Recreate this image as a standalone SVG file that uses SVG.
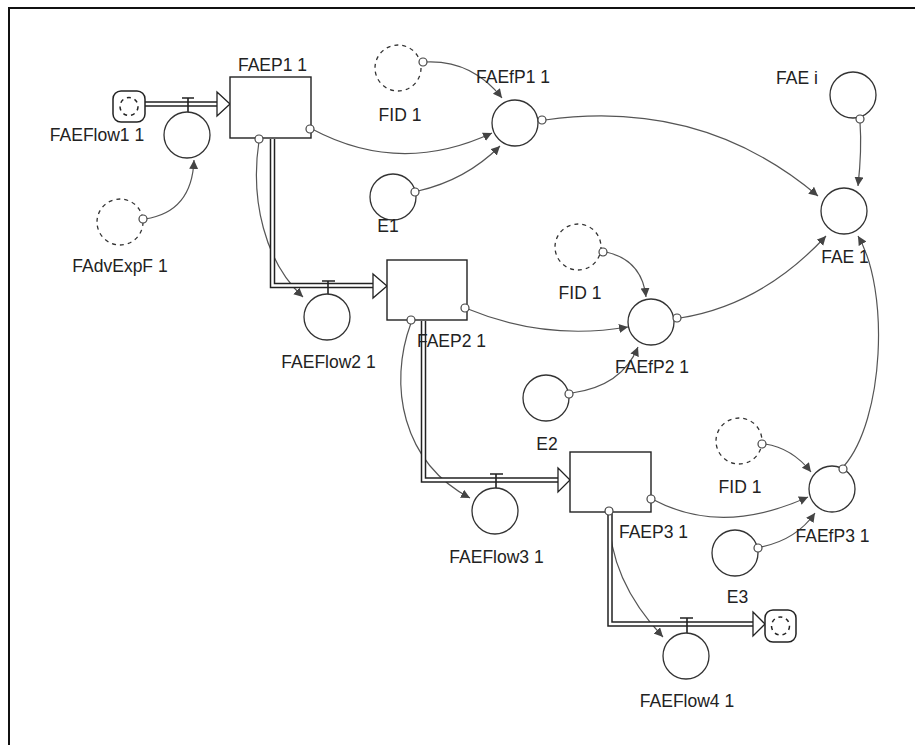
<svg xmlns="http://www.w3.org/2000/svg" width="915" height="745" viewBox="0 0 915 745">
<defs>
<style>
.bg{fill:#fff}
.frame{stroke:#111;stroke-width:2;fill:none}
.stock{fill:#fff;stroke:#222;stroke-width:1.4}
.aux{fill:#fff;stroke:#333;stroke-width:1.3}
.ghost{fill:none;stroke:#333;stroke-width:1.3;stroke-dasharray:4 4}
.pipeo{fill:none;stroke:#222;stroke-width:5.5;stroke-linejoin:miter}
.pipei{fill:none;stroke:#fff;stroke-width:2.5;stroke-linejoin:miter}
.tri{fill:#fff;stroke:#222;stroke-width:1.3}
.valve{fill:none;stroke:#222;stroke-width:1.6}
.cloud{fill:#fff;stroke:#222;stroke-width:1.5}
.cloudin{fill:none;stroke:#222;stroke-width:1.5;stroke-dasharray:4 4}
.link{fill:none;stroke:#555;stroke-width:1.2;marker-end:url(#ah)}
.org{fill:#fff;stroke:#444;stroke-width:1.2}
text{font-family:"Liberation Sans",Arial,sans-serif;font-size:17.5px;fill:#222;text-anchor:middle}
</style>
<marker id="ah" markerUnits="userSpaceOnUse" markerWidth="10" markerHeight="10" refX="9" refY="4.5" orient="auto">
<path d="M0,0 L9,4.5 L0,9 z" fill="#444"/>
</marker>
</defs>
<rect class="bg" x="0" y="0" width="915" height="745"/>
<path class="frame" d="M9,745 V8 H915"/>

<g id="connectors">
<path class="link" d="M145,219 Q192,212 194,160"/>
<path class="link" d="M259,141 C250,200 265,262 303,297"/>
<path class="link" d="M312,129 Q400,176 492,133"/>
<path class="link" d="M426,62 Q472,60 502,98"/>
<path class="link" d="M418,191 Q466,180 500,146"/>
<path class="link" d="M545,120 Q702,98 818,196"/>
<path class="link" d="M860,122 Q862,150 858,186"/>
<path class="link" d="M468,309 Q545,341 628,327"/>
<path class="link" d="M411,323 C388,385 402,462 470,498"/>
<path class="link" d="M606,252 Q642,260 646,297"/>
<path class="link" d="M572,393 Q622,386 638,347"/>
<path class="link" d="M680,318 Q762,305 826,236"/>
<path class="link" d="M844,466 C884,420 890,290 858,236"/>
<path class="link" d="M654,500 Q722,536 808,497"/>
<path class="link" d="M765,444 Q792,448 811,472"/>
<path class="link" d="M761,547 Q796,540 815,513"/>
<path class="link" d="M609,514 C609,562 630,602 663,637"/>
</g>

<g id="flow1">
<path class="pipeo" d="M145,104 H218"/>
<path class="pipei" d="M145,104 H218"/>
<polygon class="tri" points="217,92 230,104 217,116"/>
<path class="valve" d="M182,98 H194 M188,98 V112"/>
<circle class="aux" cx="187" cy="135" r="23"/>
<text x="97" y="141">FAEFlow1 1</text>
</g>
<g id="cloud1">
<rect class="cloud" x="113" y="91" width="32" height="31" rx="8"/>
<circle class="cloudin" cx="129" cy="106.5" r="9"/>
</g>

<g id="flow2">
<path class="pipeo" d="M272.5,139 V285.5 H374"/>
<path class="pipei" d="M272.5,139 V285.5 H374"/>
<polygon class="tri" points="373,274 387,286 373,298"/>
<path class="valve" d="M322,281 H335 M328,281 V295"/>
<circle class="aux" cx="327" cy="317" r="23"/>
<text x="328.5" y="368">FAEFlow2 1</text>
</g>

<g id="flow3">
<path class="pipeo" d="M423.5,321 V480 H559"/>
<path class="pipei" d="M423.5,321 V480 H559"/>
<polygon class="tri" points="558,468 570,480 558,492"/>
<path class="valve" d="M490,474 H503 M496,474 V488"/>
<circle class="aux" cx="495" cy="511" r="23"/>
<text x="496.5" y="563">FAEFlow3 1</text>
</g>

<g id="flow4">
<path class="pipeo" d="M610,513 V624 H754"/>
<path class="pipei" d="M610,513 V624 H754"/>
<polygon class="tri" points="753,612 765,624 753,636"/>
<path class="valve" d="M680,618 H693 M687,618 V633"/>
<circle class="aux" cx="686" cy="656" r="23"/>
<text x="687" y="707">FAEFlow4 1</text>
</g>
<g id="cloud2">
<rect class="cloud" x="765" y="610" width="31" height="32" rx="8"/>
<circle class="cloudin" cx="780.5" cy="626" r="9"/>
</g>

<g id="FAEP1">
<rect class="stock" x="230" y="77" width="81" height="61"/>
<circle class="org" cx="310" cy="129" r="4"/>
<circle class="org" cx="259" cy="139" r="4"/>
<text x="272.5" y="71">FAEP1 1</text>
</g>
<g id="FAEP2">
<rect class="stock" x="387" y="260" width="80" height="60"/>
<circle class="org" cx="465" cy="308" r="4"/>
<circle class="org" cx="411" cy="320" r="4"/>
<text x="451.5" y="347">FAEP2 1</text>
</g>
<g id="FAEP3">
<rect class="stock" x="570" y="452" width="81" height="60"/>
<circle class="org" cx="651" cy="499" r="4"/>
<circle class="org" cx="609" cy="511" r="4"/>
<text x="653.5" y="538">FAEP3 1</text>
</g>

<g id="FAdvExpF">
<circle class="ghost" cx="120" cy="222" r="23"/>
<circle class="org" cx="143" cy="219" r="4"/>
<text x="120" y="272">FAdvExpF 1</text>
</g>
<g id="FID1a">
<circle class="ghost" cx="398" cy="68" r="23"/>
<circle class="org" cx="423" cy="62" r="4"/>
<text x="400" y="121">FID 1</text>
</g>
<g id="E1">
<circle class="aux" cx="393" cy="197" r="23"/>
<circle class="org" cx="415" cy="192" r="4"/>
<text x="388" y="232">E1</text>
</g>
<g id="FAEfP1">
<circle class="aux" cx="515" cy="123" r="23"/>
<circle class="org" cx="542" cy="120" r="4"/>
<text x="513" y="83">FAEfP1 1</text>
</g>
<g id="FAEi">
<circle class="aux" cx="853" cy="95" r="23"/>
<circle class="org" cx="860" cy="119" r="4"/>
<text x="797" y="84">FAE i</text>
</g>
<g id="FAE1">
<circle class="aux" cx="844" cy="211" r="23"/>
<text x="845" y="263">FAE 1</text>
</g>
<g id="FID1b">
<circle class="ghost" cx="578" cy="247" r="23"/>
<circle class="org" cx="603" cy="252" r="4"/>
<text x="580" y="299">FID 1</text>
</g>
<g id="FAEfP2">
<circle class="aux" cx="651" cy="322" r="23"/>
<circle class="org" cx="677" cy="318" r="4"/>
<text x="652" y="373">FAEfP2 1</text>
</g>
<g id="E2">
<circle class="aux" cx="546" cy="398" r="23"/>
<circle class="org" cx="569" cy="394" r="4"/>
<text x="547" y="450">E2</text>
</g>
<g id="FID1c">
<circle class="ghost" cx="739" cy="441" r="23"/>
<circle class="org" cx="762" cy="444" r="4"/>
<text x="740" y="493">FID 1</text>
</g>
<g id="FAEfP3">
<circle class="aux" cx="832" cy="489" r="23"/>
<circle class="org" cx="843" cy="469" r="4"/>
<text x="832.5" y="542">FAEfP3 1</text>
</g>
<g id="E3">
<circle class="aux" cx="735" cy="553" r="23"/>
<circle class="org" cx="758" cy="548" r="4"/>
<text x="737.5" y="603">E3</text>
</g>
</svg>
